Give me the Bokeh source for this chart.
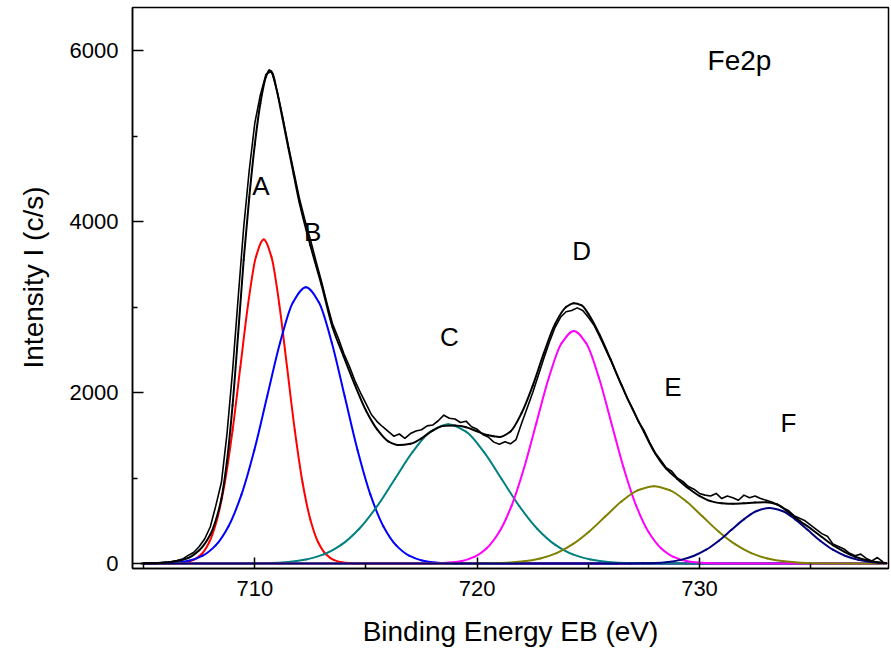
from bokeh.plotting import figure
from bokeh.models import FixedTicker, Range1d, ColumnDataSource, Title
from bokeh.embed import file_html
from bokeh.resources import INLINE
from bokeh.core.properties import value

FONT = "Liberation Sans"

# ---- fitted components (binding energy eV, intensity c/s) ----
A_x = [705.0, 706.2, 706.55, 706.90, 707.25, 707.60, 707.95, 708.30, 708.65, 709.00, 709.35, 709.70, 710.05,
       710.40, 710.75, 711.10, 711.45, 711.80, 712.15, 712.50, 712.85, 713.20, 713.55, 713.90, 714.25, 714.60, 738.4]
A_y = [0, 0, 5, 15, 42, 108, 249, 513, 945, 1558, 2299, 3035, 3585,
       3790, 3585, 3035, 2299, 1558, 945, 513, 249, 108, 42, 15, 5, 0, 0]

B_x = [705.0, 705.92, 706.50, 707.08, 707.66, 708.24, 708.82, 709.40, 709.98, 710.56, 711.14, 711.72,
       712.30, 712.88, 713.46, 714.04, 714.62, 715.20, 715.78, 716.36, 716.94, 717.52, 718.10, 718.68, 719.30, 738.4]
B_y = [0, 4, 13, 36, 92, 212, 437, 806, 1328, 1959, 2586, 3056,
       3230, 3056, 2586, 1959, 1328, 806, 437, 212, 92, 36, 13, 4, 0, 0]

C_x = [705.0, 709.1, 709.9, 710.7, 711.5, 712.3, 713.1, 713.9, 714.7, 715.5, 716.3, 717.1, 717.9,
       718.7, 719.5, 720.3, 721.1, 721.9, 722.7, 723.5, 724.3, 725.1, 725.9, 726.7, 727.5, 728.3, 738.4]
C_y = [0, 0, 2, 6, 18, 47, 107, 221, 407, 670, 989, 1305, 1542,
       1630, 1542, 1305, 989, 670, 407, 221, 107, 47, 18, 6, 2, 0, 0]

D_x = [705.0, 717.6, 718.19, 718.75, 719.31, 719.87, 720.43, 720.99, 721.55, 722.11, 722.67, 723.23, 723.79,
       724.35, 724.91, 725.47, 726.03, 726.59, 727.15, 727.71, 728.27, 728.83, 729.39, 729.95, 730.51, 731.1, 738.4]
D_y = [0, 0, 3, 11, 30, 78, 179, 368, 678, 1118, 1650, 2178, 2573,
       2720, 2573, 2178, 1650, 1118, 678, 368, 179, 78, 30, 11, 3, 0, 0]

E_x = [705.0, 719.2, 719.92, 720.65, 721.38, 722.11, 722.84, 723.57, 724.30, 725.03, 725.76, 726.49, 727.22,
       727.95, 728.68, 729.41, 730.14, 730.87, 731.60, 732.33, 733.06, 733.79, 734.52, 735.25, 735.98, 736.7, 738.4]
E_y = [0, 0, 1, 4, 10, 26, 59, 122, 226, 372, 549, 725, 856,
       905, 856, 725, 549, 372, 226, 122, 59, 26, 10, 4, 1, 0, 0]

F_x = [705.0, 726.3, 726.88, 727.45, 728.02, 728.59, 729.16, 729.73, 730.30, 730.87, 731.44, 732.01, 732.58,
       733.15, 733.72, 734.29, 734.86, 735.43, 736.00, 736.57, 737.14, 737.71, 738.28, 738.4]
F_y = [0, 0, 1, 3, 7, 19, 43, 88, 162, 267, 394, 520, 615,
       650, 615, 520, 394, 267, 162, 88, 43, 19, 7, 5]

# ---- fit envelope ----
env_x = [704.9, 705.5, 706.0, 706.5, 707.0, 707.5, 708.0, 708.25, 708.5, 708.75, 709.0, 709.25, 709.5, 709.75,
         710.0, 710.25, 710.5, 710.65, 710.8, 711.0, 711.25, 711.5, 711.75, 712.0, 712.5, 713.0, 713.5, 714.0,
         714.5, 715.0, 715.5, 716.0, 716.5, 717.0, 717.5, 718.0, 718.5, 719.0, 719.5, 720.0, 720.5, 721.0,
         721.5, 722.0, 722.5, 723.0, 723.5, 724.0, 724.35, 724.7, 725.0, 725.5, 726.0, 726.5, 727.0, 727.5,
         728.0, 728.5, 729.0, 729.5, 730.0, 730.5, 731.0, 731.5, 732.0, 732.5, 733.0, 733.5, 734.0, 734.5,
         735.0, 735.5, 736.0, 736.5, 737.0, 737.5, 738.0, 738.4]
env_y = [0, 4, 12, 30, 65, 155, 340, 510, 760, 1200, 1850, 2680, 3550, 4280,
         4900, 5380, 5690, 5770, 5730, 5520, 5200, 4870, 4550, 4230, 3720, 3260, 2760, 2420,
         2090, 1790, 1570, 1430, 1385, 1400, 1465, 1555, 1610, 1615, 1595, 1545, 1500, 1480,
         1545, 1760, 2080, 2460, 2800, 3000, 3045, 3020, 2920, 2680, 2390, 2080, 1800, 1540,
         1290, 1110, 990, 880, 790, 730, 705, 698, 705, 713, 718, 690, 600, 500,
         410, 310, 215, 140, 80, 40, 15, 5]

# ---- measured spectrum (uniform 0.25 eV sampling from 705.0 eV) ----
meas_start = 705.0
meas_step = 0.25
meas_y = [5, 8, 6, 12, 16, 22, 34, 52,
          95, 130, 200, 290, 430, 680, 950, 1520,
          2250, 3100, 3930, 4600, 5150, 5480, 5720, 5760,
          5530, 5230, 4900, 4590, 4280, 4020, 3790, 3540,
          3300, 3040, 2800, 2640, 2460, 2310, 2140, 2000,
          1870, 1740, 1660, 1600, 1545, 1490, 1515, 1465,
          1520, 1550, 1565, 1610, 1620, 1670, 1735, 1700,
          1690, 1650, 1665, 1600, 1570, 1510, 1480, 1420,
          1395, 1425, 1400, 1450, 1640, 1820, 2000, 2200,
          2400, 2590, 2760, 2880, 2945, 2960, 2990, 2960,
          2880, 2790, 2660, 2520, 2380, 2230, 2090, 1930,
          1810, 1660, 1560, 1420, 1300, 1210, 1120, 1080,
          1000, 960, 900, 870, 820, 800, 790, 820,
          760, 790, 770, 740, 800, 770, 790, 760,
          740, 720, 690, 650, 620, 560, 530, 500,
          450, 400, 350, 320, 230, 200, 170, 120,
          90, 110, 60, 30, 70, 20]
meas_x = [round(meas_start + meas_step * i, 2) for i in range(len(meas_y))]

# ---- annotations ----
peak_names = ["A", "B", "C", "D", "E", "F"]
peak_label_x = [710.27, 712.6, 718.75, 724.7, 728.8, 734.0]
peak_label_y = [4420, 3875, 2650, 3660, 2065, 1640]
title_text = "Fe2p"
title_x = 731.8
title_y = 5883
x_title = "Binding Energy EB (eV)"
y_title = "Intensity I (c/s)"

x_major = [710, 720, 730]
x_minor = [705, 715, 725, 735]
y_major = [0, 2000, 4000, 6000]
y_minor = [1000, 3000, 5000]

p = figure(width=891, height=650, output_backend="svg", toolbar_location=None,
           x_range=Range1d(704.5, 738.5), y_range=Range1d(-58, 6503),
           min_border_left=132, min_border_right=3, min_border_top=7, min_border_bottom=82)
p.background_fill_color = "white"
p.border_fill_color = "white"
p.outline_line_color = "black"
p.outline_line_width = 1.5
p.xgrid.visible = False
p.ygrid.visible = False


def smooth_curve(x, y, color, width=2.0):
    """Draw a smooth curve through the given points with Bezier segments
    (monotone cubic Hermite tangents, so no overshoot)."""
    n = len(x)
    h = [x[i + 1] - x[i] for i in range(n - 1)]
    d = [(y[i + 1] - y[i]) / h[i] for i in range(n - 1)]
    m = [0.0] * n
    m[0], m[-1] = d[0], d[-1]
    for i in range(1, n - 1):
        if d[i - 1] * d[i] <= 0:
            m[i] = 0.0
        else:
            w1 = 2 * h[i] + h[i - 1]
            w2 = h[i] + 2 * h[i - 1]
            m[i] = (w1 + w2) / (w1 / d[i - 1] + w2 / d[i])
    src = ColumnDataSource(dict(
        x0=x[:-1], y0=y[:-1], x1=x[1:], y1=y[1:],
        cx0=[x[i] + h[i] / 3 for i in range(n - 1)],
        cy0=[y[i] + m[i] * h[i] / 3 for i in range(n - 1)],
        cx1=[x[i + 1] - h[i] / 3 for i in range(n - 1)],
        cy1=[y[i + 1] - m[i + 1] * h[i] / 3 for i in range(n - 1)],
    ))
    p.bezier(x0="x0", y0="y0", x1="x1", y1="y1", cx0="cx0", cy0="cy0", cx1="cx1", cy1="cy1",
             source=src, line_color=color, line_width=width, line_cap="round")


smooth_curve(A_x, A_y, "#FF0000")
smooth_curve(B_x, B_y, "#0000FF")
smooth_curve(C_x, C_y, "#008080")
smooth_curve(D_x, D_y, "#FF00FF")
smooth_curve(E_x, E_y, "#808000")
smooth_curve(F_x, F_y, "#000080")

p.line(meas_x, meas_y, line_color="black", line_width=1.6, line_join="round")
smooth_curve(env_x, env_y, "black", 2.0)

src = ColumnDataSource(dict(x=peak_label_x, y=peak_label_y, t=peak_names))
p.text(x="x", y="y", text="t", source=src, text_font=value(FONT), text_font_size="26px",
       text_align="center", text_baseline="middle", text_color="black")
p.text(x=[title_x], y=[title_y], text=[title_text], text_font=value(FONT), text_font_size="28px",
       text_align="center", text_baseline="middle", text_color="black")

for ax, maj, mnr in ((p.xaxis[0], x_major, x_minor), (p.yaxis[0], y_major, y_minor)):
    ax.ticker = FixedTicker(ticks=maj, minor_ticks=mnr)
    ax.major_tick_in = 11
    ax.major_tick_out = 0
    ax.minor_tick_in = 5
    ax.minor_tick_out = 0
    ax.major_tick_line_width = 1.5
    ax.minor_tick_line_width = 1.5
    ax.axis_line_width = 1.5
    ax.major_label_text_font = FONT
    ax.major_label_text_font_size = "22px"
    ax.major_label_text_color = "black"
    ax.axis_label_text_font = FONT
    ax.axis_label_text_font_size = "28px"
    ax.axis_label_text_font_style = "normal"
    ax.axis_label_text_color = "black"

p.xaxis[0].axis_label = x_title
p.xaxis[0].major_label_standoff = 12
p.xaxis[0].axis_label_standoff = 17
p.yaxis[0].major_label_standoff = 14

# y-axis title as a side title, started from the lower end and lifted like the reference
p.add_layout(Title(text=y_title, align="left", offset=200, standoff=32, vertical_align="top",
                   text_font=FONT, text_font_size="28px", text_font_style="normal",
                   text_color="black"), "left")

open("out.html", "w").write(file_html(p, INLINE))
